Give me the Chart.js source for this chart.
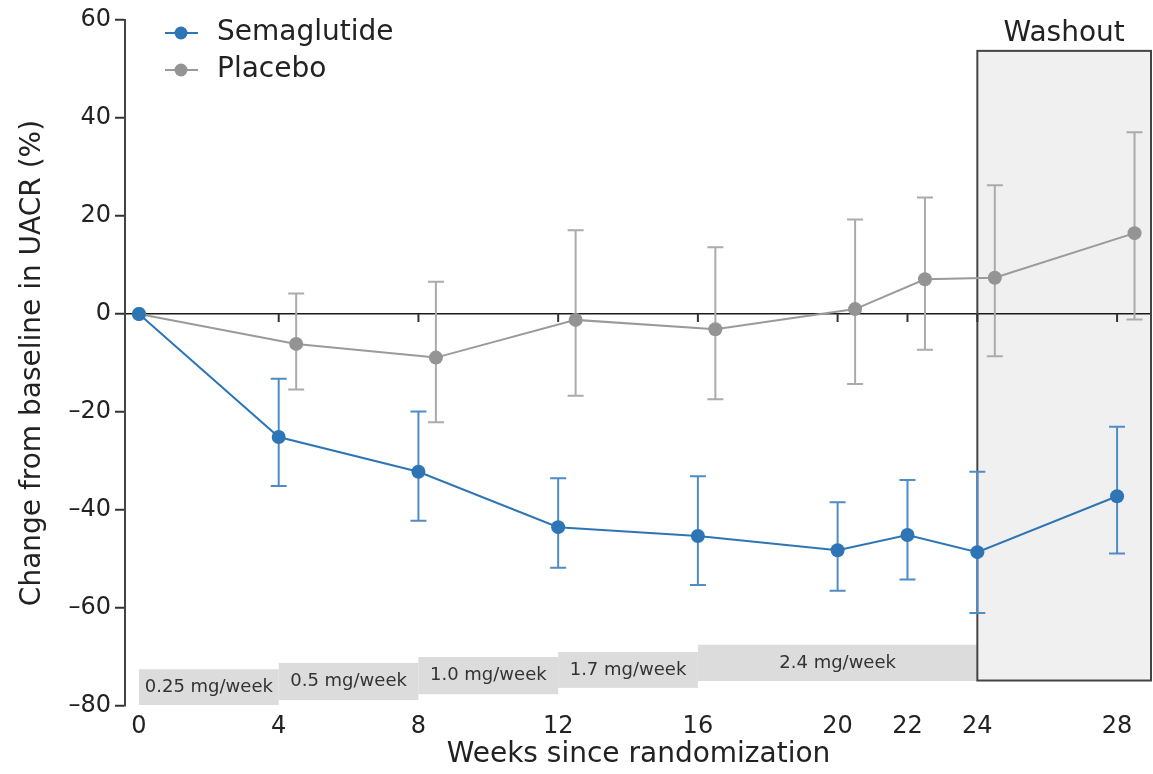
<!DOCTYPE html>
<html>
<head>
<meta charset="utf-8">
<title>UACR change from baseline</title>
<script src="https://cdn.jsdelivr.net/npm/chart.js@4.4.1/dist/chart.umd.min.js"></script>
<style>
  html, body { margin: 0; padding: 0; background: #fff; overflow: hidden; }
  canvas { display: block; }
</style>
</head>
<body>
<canvas id="uacrChart" width="1153" height="774"></canvas>
<script>
// Visit schedule (weeks since randomization)
const weeks = [0, 4, 8, 12, 16, 20, 22, 24, 28];
// placebo is drawn half a week to the right so the whiskers don't overlap
const placeboWeeks = [0, 4.5, 8.5, 12.5, 16.5, 20.5, 22.5, 24.5, 28.5];

// Change from baseline in UACR (%), mean with lower / upper limits
const semaMean = [0, -25.1, -32.2, -43.5, -45.3, -48.2, -45.1, -48.6, -37.2];
const semaLow  = [0, -35.1, -42.2, -51.8, -55.3, -56.5, -54.2, -61.0, -48.9];
const semaHigh = [0, -13.2, -19.9, -33.5, -33.1, -38.4, -33.9, -32.2, -23.0];

const placeboMean = [0, -6.1, -8.9, -1.2, -3.1, 1.0, 7.1, 7.4, 16.5];
const placeboLow  = [0, -15.4, -22.1, -16.7, -17.4, -14.3, -7.3, -8.6, -1.1];
const placeboHigh = [0, 4.2, 6.6, 17.1, 13.6, 19.3, 23.8, 26.3, 37.1];

const xTicks = [0, 4, 8, 12, 16, 20, 22, 24, 28];
const yTicks = [60, 40, 20, 0, -20, -40, -60, -80];

// Dose escalation steps shown along the bottom
const doseLabels = ['0.25 mg/week', '0.5 mg/week', '1.0 mg/week', '1.7 mg/week', '2.4 mg/week'];
const doseStart  = [0, 4, 8, 12, 16];
const doseEnd    = [4, 8, 12, 16, 24];
const doseTop    = [-72.5, -71.2, -70.0, -69.0, -67.5];
const doseBottom = [-79.8, -78.8, -77.6, -76.3, -74.9];

// Off-treatment period
const washoutStart = 24;
const washoutTop = 53.7;
const washoutBottom = -74.8;

const SEMA_BLUE = '#2e75b6';
const PLACEBO_GREY = '#949494';
const FONT = "'DejaVu Sans', sans-serif";

Chart.defaults.font.family = FONT;
Chart.defaults.color = '#222';

function dashMinus(v) {
  return v < 0 ? '\u2013' + Math.abs(v) : String(v);
}

// grey dose boxes and the washout panel sit behind everything
const backdrop = {
  id: 'backdrop',
  beforeDraw(chart) {
    const { ctx, scales: { x, y } } = chart;
    ctx.save();

    // washout panel
    const wx0 = x.getPixelForValue(washoutStart);
    const wx1 = x.right;
    const wy0 = y.getPixelForValue(washoutTop);
    const wy1 = y.getPixelForValue(washoutBottom);
    ctx.fillStyle = '#f0f0f0';
    ctx.fillRect(wx0, wy0, wx1 - wx0, wy1 - wy0);

    // dose steps
    ctx.fillStyle = '#dcdcdc';
    doseLabels.forEach((label, i) => {
      const x0 = x.getPixelForValue(doseStart[i]);
      const x1 = x.getPixelForValue(doseEnd[i]);
      const y0 = y.getPixelForValue(doseTop[i]);
      const y1 = y.getPixelForValue(doseBottom[i]);
      ctx.fillRect(x0, y0, x1 - x0, y1 - y0);
    });
    ctx.fillStyle = '#333';
    ctx.font = '18px ' + FONT;
    ctx.textAlign = 'center';
    ctx.textBaseline = 'middle';
    doseLabels.forEach((label, i) => {
      const cx = (x.getPixelForValue(doseStart[i]) + x.getPixelForValue(doseEnd[i])) / 2;
      const cy = (y.getPixelForValue(doseTop[i]) + y.getPixelForValue(doseBottom[i])) / 2;
      ctx.fillText(label, cx, cy);
    });
    ctx.restore();
  },
  beforeDatasetsDraw(chart) {
    const { ctx, scales: { x, y } } = chart;
    ctx.save();
    // washout outline on top of the zero line
    const wx0 = x.getPixelForValue(washoutStart);
    const wx1 = x.right - 1;
    const wy0 = y.getPixelForValue(washoutTop);
    const wy1 = y.getPixelForValue(washoutBottom);
    ctx.strokeStyle = '#444';
    ctx.lineWidth = 2;
    ctx.strokeRect(wx0, wy0, wx1 - wx0, wy1 - wy0);

    ctx.fillStyle = '#222';
    ctx.font = '28px ' + FONT;
    ctx.textAlign = 'center';
    ctx.textBaseline = 'middle';
    ctx.fillText('Washout', (wx0 + wx1) / 2, wy0 - 17);

    // small week ticks hanging off the zero line
    const y0 = y.getPixelForValue(0);
    ctx.strokeStyle = '#333';
    ctx.lineWidth = 2;
    xTicks.forEach(w => {
      if (w === 0) return;
      const px = x.getPixelForValue(w);
      ctx.beginPath();
      ctx.moveTo(px, y0);
      ctx.lineTo(px, y0 + 8);
      ctx.stroke();
    });
    ctx.restore();
  }
};

// whiskers for each point, drawn under the lines and markers
const errorBars = {
  id: 'errorBars',
  beforeDatasetsDraw(chart) {
    const { ctx, scales: { x, y } } = chart;
    ctx.save();
    chart.data.datasets.forEach(ds => {
      ctx.strokeStyle = ds.errColor;
      ctx.lineWidth = 2;
      ds.data.forEach((pt, i) => {
        const lo = ds.errLow[i];
        const hi = ds.errHigh[i];
        if (lo === hi) return;
        const px = x.getPixelForValue(pt.x);
        const pLo = y.getPixelForValue(lo);
        const pHi = y.getPixelForValue(hi);
        ctx.beginPath();
        ctx.moveTo(px, pLo);
        ctx.lineTo(px, pHi);
        ctx.moveTo(px - 8, pLo);
        ctx.lineTo(px + 8, pLo);
        ctx.moveTo(px - 8, pHi);
        ctx.lineTo(px + 8, pHi);
        ctx.stroke();
      });
    });
    ctx.restore();
  }
};

// line-and-dot legend in the top left corner
const cornerLegend = {
  id: 'cornerLegend',
  afterDraw(chart) {
    const { ctx } = chart;
    ctx.save();
    ctx.font = '28px ' + FONT;
    ctx.textBaseline = 'middle';
    ctx.textAlign = 'left';
    chart.data.datasets.forEach((ds, i) => {
      const cy = 33 + i * 37;
      ctx.strokeStyle = ds.borderColor;
      ctx.lineWidth = 2;
      ctx.beginPath();
      ctx.moveTo(165, cy);
      ctx.lineTo(198, cy);
      ctx.stroke();
      ctx.fillStyle = ds.pointBackgroundColor;
      ctx.beginPath();
      ctx.arc(181, cy, 6.5, 0, Math.PI * 2);
      ctx.fill();
      ctx.fillStyle = '#222';
      ctx.fillText(ds.label, 217, cy);
    });
    ctx.restore();
  }
};

const ctx = document.getElementById('uacrChart');

new Chart(ctx, {
  type: 'line',
  data: {
    datasets: [
      {
        label: 'Semaglutide',
        data: weeks.map((w, i) => ({ x: w, y: semaMean[i] })),
        errLow: semaLow,
        errHigh: semaHigh,
        errColor: '#4f8cc5',
        borderColor: SEMA_BLUE,
        borderWidth: 2,
        pointBackgroundColor: SEMA_BLUE,
        pointBorderWidth: 0,
        pointRadius: 7,
        tension: 0
      },
      {
        label: 'Placebo',
        data: placeboWeeks.map((w, i) => ({ x: w, y: placeboMean[i] })),
        errLow: placeboLow,
        errHigh: placeboHigh,
        errColor: '#ababab',
        borderColor: '#9a9a9a',
        borderWidth: 2,
        pointBackgroundColor: PLACEBO_GREY,
        pointBorderWidth: 0,
        pointRadius: 7,
        tension: 0
      }
    ]
  },
  options: {
    responsive: false,
    animation: false,
    layout: {
      // the markers never reach the edge, so skip the automatic point padding
      autoPadding: false,
      padding: { top: 20, right: 1, left: 0, bottom: 0 }
    },
    plugins: {
      legend: { display: false },
      tooltip: { enabled: false }
    },
    scales: {
      x: {
        type: 'linear',
        min: -0.4,
        max: 29,
        afterBuildTicks(scale) {
          scale.ticks = xTicks.map(v => ({ value: v }));
        },
        afterFit(scale) {
          scale.height = 68;
        },
        grid: { display: false, drawTicks: false },
        border: { display: false },
        ticks: {
          font: { size: 24 },
          color: '#222',
          padding: 6,
          maxRotation: 0,
          autoSkip: false
        },
        title: {
          display: true,
          text: 'Weeks since randomization',
          font: { size: 28 },
          color: '#222',
          padding: { top: 0, bottom: 2 }
        }
      },
      y: {
        min: -80,
        max: 60,
        afterBuildTicks(scale) {
          scale.ticks = yTicks.map(v => ({ value: v }));
        },
        afterFit(scale) { scale.width = 125; },
        grid: {
          drawOnChartArea: true,
          color: c => (c.tick && c.tick.value === 0 ? '#1a1a1a' : 'rgba(0,0,0,0)'),
          lineWidth: 1.5,
          tickColor: '#333',
          tickLength: 10,
          tickWidth: 2
        },
        border: { color: '#444', width: 2 },
        ticks: {
          font: { size: 24 },
          color: '#222',
          padding: 4,
          callback: v => dashMinus(v)
        },
        title: {
          display: true,
          text: 'Change from baseline in UACR (%)',
          font: { size: 28 },
          color: '#222',
          padding: { top: 16, bottom: 0 }
        }
      }
    }
  },
  plugins: [backdrop, errorBars, cornerLegend]
});
</script>
</body>
</html>
